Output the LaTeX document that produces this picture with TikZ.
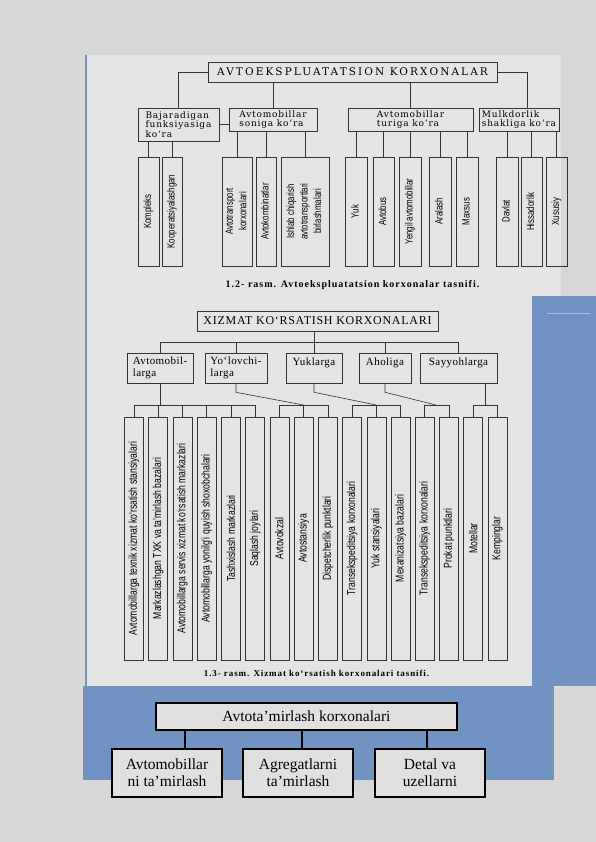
\documentclass[tikz,border=0pt]{standalone}
\usepackage{fontspec}
\setmainfont{Liberation Serif}
\newfontfamily\topfont[LetterSpace=20]{DejaVu Serif}
\newfontfamily\boxfont[LetterSpace=9]{DejaVu Serif}
\newfontfamily\midfont[LetterSpace=4]{Liberation Serif}
\newfontfamily\xizfont[LetterSpace=6]{Liberation Serif}
\newfontfamily\capfont[LetterSpace=10]{Liberation Serif}
\newfontfamily\leaffont[FakeStretch=0.75]{Liberation Sans}
\usetikzlibrary{positioning}
\definecolor{pagegray}{HTML}{D7D7D7}
\definecolor{scangray}{HTML}{E4E4E4}
\definecolor{slideblue}{HTML}{7193C1}
\definecolor{boxgray}{HTML}{E0E0E0}

\newcommand{\vlab}[1]{\rotatebox{90}{\begin{tabular}{@{}c@{}}#1\end{tabular}}}

\tikzset{
  scanline/.style={draw=black!80, line width=0.6pt},
  toproot/.style={scanline, inner sep=0pt, minimum width=289, minimum height=20, font=\topfont\fontsize{10.5}{12}\selectfont},
  topbox/.style={scanline, inner sep=0pt, align=left, font=\boxfont\fontsize{9}{9.5}\selectfont},
  topleaf/.style={scanline, inner sep=0pt, minimum height=109, font=\leaffont\fontsize{10.5}{13.5}\selectfont},
  midroot/.style={scanline, inner sep=0pt, minimum width=241, minimum height=20, font=\xizfont\fontsize{12}{13}\selectfont},
  midbox/.style={scanline, inner sep=0pt, minimum height=30, align=left, font=\midfont\fontsize{11}{12}\selectfont},
  midleaf/.style={scanline, inner sep=0pt, minimum width=19, minimum height=243, font=\leaffont\fontsize{11.5}{12}\selectfont},
  rasm/.style={inner sep=0pt, font=\capfont\bfseries\fontsize{10}{11}\selectfont},
  repbox/.style={draw=black, line width=1.2pt, fill=boxgray, inner sep=0pt, align=center, font=\fontsize{15.5}{17}\selectfont},
  repline/.style={draw=black, line width=1.2pt}
}

\begin{document}
\begin{tikzpicture}[x=1pt,y=-1pt]
\useasboundingbox (0,0) rectangle (596,842);
% page, scan and slide background
\fill[pagegray] (0,0) rectangle (596,842);
\fill[scangray] (85,55) rectangle (561,687);
\fill[slideblue] (532,296) rectangle (596,686);
\fill[slideblue] (83,686) rectangle (554,780);
\draw[slideblue!60!white, line width=0.8pt] (547,313) -- (590,313);
\draw[slideblue, line width=1.5pt] (86,55) -- (86,687);

% 1.2 - avtoekspluatatsion korxonalar
\node[toproot] (avt) at (352.5,72) {AVTOEKSPLUATATSION KORXONALAR};
\node[topbox, minimum width=81, minimum height=33] (funk) at (178.5,124.5) {Bajaradigan\\funksiyasiga\\ko‘ra};
\node[topbox, minimum width=88, minimum height=23] (soni) at (273,119.5) {Avtomobillar\\soniga ko‘ra};
\node[topbox, minimum width=125, minimum height=23] (turi) at (410.5,119.5) {Avtomobillar\\turiga ko‘ra};
\node[topbox, minimum width=80, minimum height=23] (mulk) at (519,119.5) {Mulkdorlik\\shakliga ko‘ra};

\coordinate (mk) at (527,72);
\draw[scanline] (avt.west) -| (funk.north);
\draw[scanline] (avt.east) -- (mk) -- (mk |- mulk.north);
\draw[scanline] (avt.south -| soni.north) -- (soni.north);
\draw[scanline] (avt.south -| turi.north) -- (turi.north);
\draw[scanline] (funk.east) -- (funk.east -| soni.west);

\foreach \n/\x/\w/\p/\t in {
  kom/148.5/21/funk/Kompleks,
  koo/172/20/funk/Kooperatsiyalashgan,
  atk/237/30/soni/{Avtotransport\\korxonalari},
  akb/266/20/soni/Avtokombinatlar,
  ich/305/48/soni/{Ishlab chiqarish\\avtotransportlari\\birlashmalari},
  tyuk/356/22/turi/Yuk,
  avb/383.5/21/turi/Avtobus,
  yen/410/22/turi/{Yengil avtomobillar},
  ara/440/22/turi/Aralash,
  max/467/22/turi/Maxsus,
  dav/507/22/mulk/Davlat,
  his/531.5/21/mulk/Hissadorlik,
  xus/556.5/21/mulk/Xususiy}
{
  \node[topleaf, minimum width=\w] (\n) at (\x,211.5) {\vlab{\t}};
  \draw[scanline] (\p.south -| \n.north) -- (\n.north);
}
\node[rasm] (cap1) at (352.5,285) {1.2- rasm. Avtoekspluatatsion korxonalar tasnifi.};

% 1.3 - xizmat ko'rsatish korxonalari
\node[midroot] (xiz) at (317.5,321) {XIZMAT KO‘RSATISH KORXONALARI};
\node[midbox, minimum width=66] (avm) at (160,368) {Avtomobil-\\larga};
\node[midbox, minimum width=62] (yol) at (236,368) {Yo‘lovchi-\\larga};
\node[midbox, minimum width=56] (ykl) at (314,368) {Yuklarga\\\phantom{l}};
\node[midbox, minimum width=52] (ahl) at (385,368) {Aholiga\\\phantom{l}};
\node[midbox, minimum width=77] (say) at (458.5,368) {Sayyohlarga\\\phantom{l}};

\coordinate (xb) at (317.5,342);
\draw[scanline] (xiz.south -| ykl.north) -- (ykl.north);
\draw[scanline] (avm.north) -- (avm.north |- xb) -- (say.north |- xb) -- (say.north);
\draw[scanline] (yol.north |- xb) -- (yol.north);
\draw[scanline] (ahl.north |- xb) -- (ahl.north);

\foreach \i/\t in {
  1/Avtomobillarga texnik xizmat ko‘rsatish stansiyalari,
  2/Markazlashgan TXK va ta’mirlash bazalari,
  3/Avtomobillarga servis xizmat ko‘rsatish markazlari,
  4/Avtomobillarga yonilg‘i quyish shoxobchalari,
  5/Tashxislash markazlari,
  6/Saqlash joylari,
  7/Avtovokzal,
  8/Avtostansiya,
  9/Dispetcherlik punktlari,
  10/Transekspeditsiya korxonalari,
  11/Yuk stansiyalari,
  12/Mexanizatsiya bazalari,
  13/Transekspeditsiya korxonalari,
  14/Prokat punktlari,
  15/Motellar,
  16/Kempinglar}
  \node[midleaf] (s\i) at ({134+24.23*(\i-1)},538.5) {\rotatebox{90}{\t}};

\coordinate (ga) at (160,405);
\coordinate (gh) at (436,405);
\coordinate (gs) at (485,405);
\draw[scanline] (avm.south) -- (avm.south |- ga);
\draw[scanline] (yol.south) -- ++(0,9) -- (s8.north |- ga);
\draw[scanline] (ykl.south) -- ++(0,9) -- (s11.north |- ga);
\draw[scanline] (ahl.south) -- ++(0,9) -- (gh);
\draw[scanline] (say.south -| gs) -- (gs);
\foreach \a/\b in {1/6,7/9,10/12,13/14,15/16}
  \draw[scanline] (s\a.north |- ga) -- (s\b.north |- ga);
\foreach \i in {1,...,16}
  \draw[scanline] (s\i.north |- ga) -- (s\i.north);
\node[rasm, font=\capfont\bfseries\fontsize{9}{10}\selectfont] (cap2) at (316.5,673) {1.3- rasm. Xizmat ko‘rsatish korxonalari tasnifi.};

% avtota'mirlash korxonalari
\node[repbox, minimum width=301, minimum height=27] (rep) at (306.5,716.5) {Avtota’mirlash korxonalari};
\node[repbox, minimum width=110, minimum height=48] (r1) at (167,773) {Avtomobillar\\ni ta’mirlash};
\node[repbox, minimum width=110, minimum height=48] (r2) at (298,773) {Agregatlarni\\ta’mirlash};
\node[repbox, minimum width=110, minimum height=48] (r3) at (430,773) {Detal va\\uzellarni};
\coordinate (k1) at (185,730);
\coordinate (k2) at (302,730);
\coordinate (k3) at (427,730);
\draw[repline] (rep.south -| k1) -- (r1.north -| k1);
\draw[repline] (rep.south -| k2) -- (r2.north -| k2);
\draw[repline] (rep.south -| k3) -- (r3.north -| k3);
\end{tikzpicture}
\end{document}
